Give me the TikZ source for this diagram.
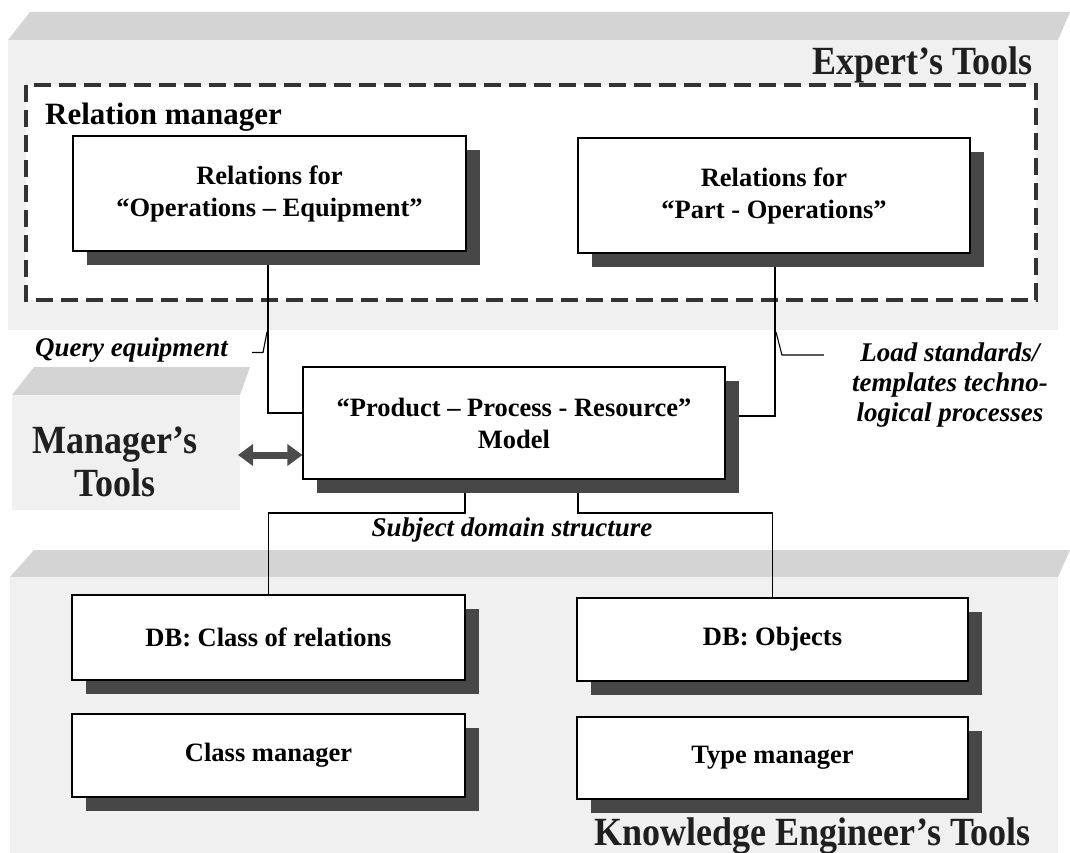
\documentclass[tikz,border=0pt]{standalone}
\usepackage{fontspec}
\setmainfont{Liberation Serif}
\newfontfamily\condfont[FakeStretch=0.9]{Liberation Serif}
\usetikzlibrary{arrows.meta,calc,shadows}
\pgfdeclarelayer{bg}
\pgfsetlayers{bg,main}

\tikzset{
  panelface/.style={fill=gray!12, draw=none},
  paneltop/.style={fill=gray!34, draw=none},
  unitbox/.style={draw=black, line width=1.2pt, fill=white, inner sep=0pt,
    align=center, font=\bfseries\fontsize{26.5}{32}\selectfont,
    drop shadow={shadow xshift=14pt, shadow yshift=-14pt, opacity=1, fill=black!72}},
  groupframe/.style={draw=black!80, line width=3.2pt, dash pattern=on 17pt off 8pt},
  link/.style={draw=black, line width=1.1pt},
  note/.style={font=\bfseries\itshape\fontsize{27}{30}\selectfont, inner sep=0pt, align=center},
  heading/.style={font=\condfont\bfseries\fontsize{40}{43}\selectfont, inner sep=0pt, text=black!88, align=center},
  grouptitle/.style={font=\bfseries\fontsize{31}{34}\selectfont, inner sep=0pt},
  duplex/.style={draw=black!70, line width=7pt,
    {Triangle[width=21pt,length=15pt]}-{Triangle[width=21pt,length=15pt]}},
}

\begin{document}
\begin{tikzpicture}[x=1pt,y=-1pt]
\useasboundingbox (0,0) rectangle (1070,853);

% tool panels drawn as flat slabs
\begin{pgfonlayer}{bg}
  \fill[white] (0,0) rectangle (1070,853);
  % expert's tools
  \fill[paneltop] (30,12) -- (1070,12) -- (1058,40) -- (8,40) -- cycle;
  \fill[panelface] (8,40) rectangle (1058,330);
  % manager's tools
  \fill[paneltop] (34,367) -- (250,367) -- (240,395) -- (12,395) -- cycle;
  \fill[panelface] (12,395) rectangle (240,510);
  % knowledge engineer's tools
  \fill[paneltop] (34,550) -- (1070,550) -- (1058,577) -- (10,577) -- cycle;
  \fill[panelface] (10,577) rectangle (1058,853);
  % relation manager group
  \fill[white] (26,85) rectangle (1036,300);
  \draw[groupframe] (26,85) rectangle (1036,300);
\end{pgfonlayer}

% headings
\node[heading, anchor=base east] (expert) at (1033,75) {Expert’s Tools};
\node[heading] (manager) at (115,462) {Manager’s\\Tools};
\node[heading, anchor=base east] (knowledge) at (1031,845) {Knowledge Engineer’s Tools};
\node[grouptitle, anchor=base west] (relman) at (45,125) {Relation manager};

% boxes
\node[unitbox, minimum width=393pt, minimum height=115pt] (oe) at (269.5,193.5)
  {Relations for\\“Operations – Equipment”};
\node[unitbox, minimum width=392pt, minimum height=115pt] (po) at (774,195.5)
  {Relations for\\“Part - Operations”};
\node[unitbox, minimum width=422pt, minimum height=112pt] (ppr) at (514,423)
  {“Product – Process - Resource”\\Model};
\node[unitbox, minimum width=393pt, minimum height=85pt] (dbc) at (268.5,637.5)
  {DB: Class of relations};
\node[unitbox, minimum width=393pt, minimum height=83pt] (cm) at (268.5,755.5)
  {Class manager};
\node[unitbox, minimum width=391pt, minimum height=83pt] (dbo) at (772.5,639.5)
  {DB: Objects};
\node[unitbox, minimum width=391pt, minimum height=82pt] (tm) at (772.5,758)
  {Type manager};

% labels on the connectors
\node[note, anchor=base east] (qe) at (228,356) {Query equipment};
\node[note, anchor=north] (ls) at (950,343) {Load standards/\\templates techno-\\logical processes};
\node[note] (sds) at (512,530) {Subject domain structure};

% connectors
\coordinate (j1) at (268,413);
\coordinate (j2) at (775,416);
\coordinate (j3) at (465,513);
\coordinate (j4) at (578,513);
\coordinate (qhook) at (267,332);
\coordinate (lhook) at (776,332);
\coordinate (mgrport) at (238,455);
\begin{pgfonlayer}{bg}
  \draw[link] (oe.south -| j1) -- (j1) -- (j1 -| ppr.west);
  \draw[link] (po.south -| j2) -- (j2) -- (j2 -| ppr.east);
  \draw[link] (ppr.south -| j3) -- (j3) -- (j3 -| dbc.north) -- (dbc.north);
  \draw[link] (ppr.south -| j4) -- (j4) -- (j4 -| dbo.north) -- (dbo.north);
  \draw[link] (qe.east) ++(24,3) -- ++(11,0) -- (qhook);
  \draw[link] ([xshift=-28pt,yshift=-12pt]ls.north west) -- ++(-42,0) -- (lhook);
\end{pgfonlayer}
\draw[duplex] (mgrport) -- (mgrport -| ppr.west);
\end{tikzpicture}
\end{document}
